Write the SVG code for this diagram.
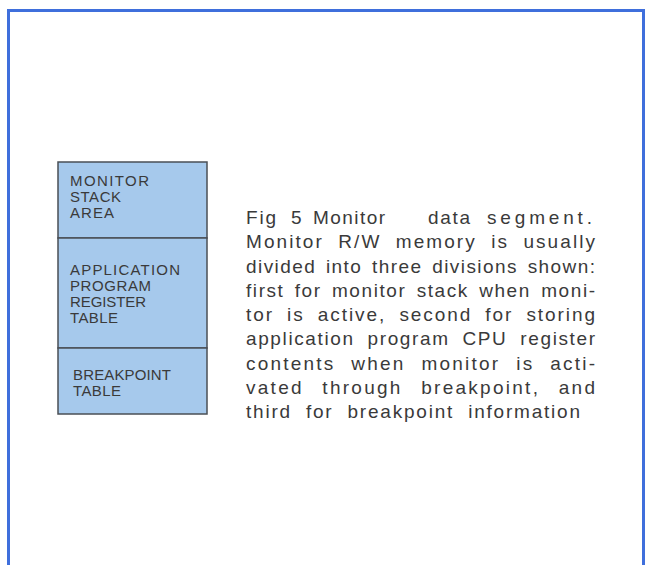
<svg xmlns="http://www.w3.org/2000/svg" width="649" height="565" viewBox="0 0 649 565">
<style>
.frame{fill:none;stroke:#3f6fdc;stroke-width:3}
.seg{fill:#a6c9ec;stroke:#4a4f55;stroke-width:1.5}
.lbl{font-family:"Liberation Sans",Arial,sans-serif;font-size:15px;fill:#3a3a3a}
.cap{font-family:"Liberation Sans",Arial,sans-serif;font-size:19px;fill:#3a3a3a;letter-spacing:1px}
</style>
<rect width="649" height="565" fill="#ffffff"/>
<path class="frame" d="M8.5,565 V10.5 H643.5 V565"/>
<g id="stack-area">
<rect class="seg" x="58" y="162" width="149" height="76"/>
<text class="lbl" x="70" y="186" textLength="79" lengthAdjust="spacing">MONITOR</text>
<text class="lbl" x="70" y="202" textLength="51" lengthAdjust="spacing">STACK</text>
<text class="lbl" x="70" y="218" textLength="44" lengthAdjust="spacing">AREA</text>
</g>
<g id="register-table">
<rect class="seg" x="58" y="238" width="149" height="110"/>
<text class="lbl" x="70" y="275" textLength="110" lengthAdjust="spacing">APPLICATION</text>
<text class="lbl" x="70" y="291" textLength="81" lengthAdjust="spacing">PROGRAM</text>
<text class="lbl" x="70" y="307" textLength="76" lengthAdjust="spacing">REGISTER</text>
<text class="lbl" x="70" y="323" textLength="48" lengthAdjust="spacing">TABLE</text>
</g>
<g id="breakpoint-table">
<rect class="seg" x="58" y="348" width="149" height="66"/>
<text class="lbl" x="73" y="380" textLength="98" lengthAdjust="spacing">BREAKPOINT</text>
<text class="lbl" x="73" y="396" textLength="48" lengthAdjust="spacing">TABLE</text>
</g>
<g id="caption">
<text class="cap" y="224">
<tspan x="246" textLength="31" lengthAdjust="spacing">Fig</tspan><tspan x="291">5</tspan><tspan x="313" textLength="73" lengthAdjust="spacing">Monitor</tspan><tspan x="428" textLength="43" lengthAdjust="spacing">data</tspan><tspan x="487" textLength="109" lengthAdjust="spacing" style="letter-spacing:4px">segment.</tspan>
</text>
<text class="cap" x="246" y="248.25" style="word-spacing:7px" textLength="350" lengthAdjust="spacing">Monitor R/W memory is usually</text>
<text class="cap" x="246" y="272.5" style="word-spacing:3px" textLength="350" lengthAdjust="spacing">divided into three divisions shown:</text>
<text class="cap" x="246" y="296.75" style="word-spacing:3.5px" textLength="350" lengthAdjust="spacing">first for monitor stack when moni-</text>
<text class="cap" x="246" y="321" style="word-spacing:6px" textLength="350" lengthAdjust="spacing">tor is active, second for storing</text>
<text class="cap" x="246" y="345.25" style="word-spacing:6px" textLength="350" lengthAdjust="spacing">application program CPU register</text>
<text class="cap" x="246" y="369.5" style="word-spacing:8.5px" textLength="350" lengthAdjust="spacing">contents when monitor is acti-</text>
<text class="cap" x="246" y="393.75" style="word-spacing:11px" textLength="350" lengthAdjust="spacing">vated through breakpoint, and</text>
<text class="cap" x="246" y="418" style="word-spacing:7px" textLength="335" lengthAdjust="spacing">third for breakpoint information</text>
</g>
</svg>
